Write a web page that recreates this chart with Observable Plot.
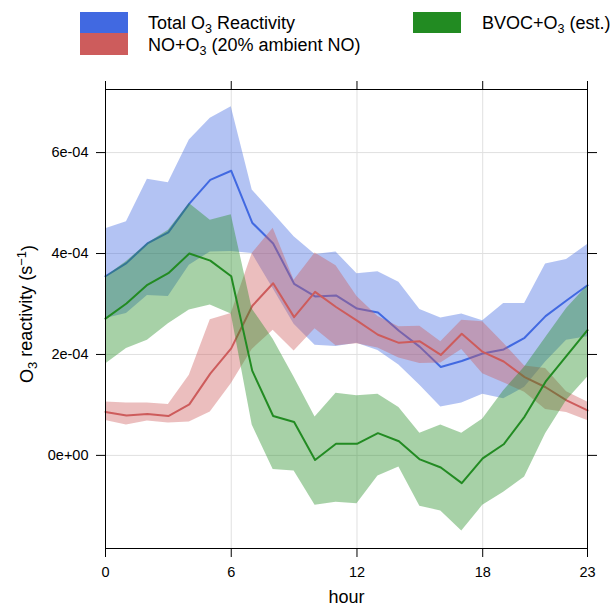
<!DOCTYPE html>
<html><head><meta charset="utf-8">
<script src="https://cdn.jsdelivr.net/npm/d3@7"></script>
<script src="https://cdn.jsdelivr.net/npm/@observablehq/plot@0.6"></script>
<style>
body{margin:0;background:#fff;font-family:"Liberation Sans",Arial,sans-serif;}
#legend{position:relative;width:613px;height:70px;}
.sw{position:absolute;width:48px;}
.lb{position:absolute;font-size:18px;line-height:21px;color:#000;white-space:nowrap;}
.lb sub{font-size:70%;vertical-align:-0.3em;line-height:0;}
</style></head><body>
<div id="legend">
  <div class="sw" style="left:80px;top:12px;height:21px;background:#4169E1"></div>
  <div class="sw" style="left:80px;top:33px;height:22px;background:#CD5C5C"></div>
  <div class="sw" style="left:413px;top:12px;height:21px;background:#228B22"></div>
  <div class="lb" style="left:148px;top:13px">Total O<sub>3</sub> Reactivity</div>
  <div class="lb" style="left:148px;top:35px">NO+O<sub>3</sub> (20% ambient NO)</div>
  <div class="lb" style="left:482px;top:13px">BVOC+O<sub>3</sub> (est.)</div>
</div>
<div id="chart"></div>
<script>
const hours = [0,1,2,3,4,5,6,7,8,9,10,11,12,13,14,15,16,17,18,19,20,21,22,23];

const totalMean  = [3.55e-4,3.81e-4,4.20e-4,4.42e-4,4.99e-4,5.46e-4,5.64e-4,4.61e-4,4.20e-4,3.40e-4,3.15e-4,3.17e-4,2.91e-4,2.83e-4,2.47e-4,2.15e-4,1.75e-4,1.87e-4,2.02e-4,2.10e-4,2.33e-4,2.76e-4,3.07e-4,3.37e-4];
const totalUpper = [4.49e-4,4.63e-4,5.47e-4,5.40e-4,6.25e-4,6.68e-4,6.91e-4,5.26e-4,4.80e-4,4.33e-4,3.98e-4,4.03e-4,3.60e-4,3.64e-4,3.43e-4,2.89e-4,2.72e-4,2.80e-4,2.67e-4,3.01e-4,3.01e-4,3.79e-4,3.88e-4,4.18e-4];
const totalLower = [2.71e-4,2.81e-4,3.17e-4,3.15e-4,3.77e-4,4.03e-4,4.04e-4,4.00e-4,3.30e-4,2.60e-4,2.18e-4,2.16e-4,2.22e-4,2.08e-4,1.79e-4,1.39e-4,0.96e-4,1.04e-4,1.21e-4,1.12e-4,1.35e-4,1.85e-4,2.28e-4,2.35e-4];

const noMean  = [0.86e-4,0.79e-4,0.82e-4,0.78e-4,1.01e-4,1.62e-4,2.12e-4,2.96e-4,3.41e-4,2.74e-4,3.24e-4,2.94e-4,2.67e-4,2.39e-4,2.23e-4,2.26e-4,1.99e-4,2.41e-4,2.05e-4,1.86e-4,1.55e-4,1.35e-4,1.09e-4,0.89e-4];
const noUpper = [1.06e-4,1.04e-4,1.04e-4,1.01e-4,1.59e-4,2.69e-4,2.81e-4,4.00e-4,4.50e-4,3.47e-4,4.01e-4,3.76e-4,3.15e-4,2.75e-4,2.55e-4,2.56e-4,2.25e-4,2.68e-4,2.65e-4,2.22e-4,1.77e-4,1.72e-4,1.26e-4,1.06e-4];
const noLower = [0.69e-4,0.60e-4,0.68e-4,0.64e-4,0.66e-4,0.86e-4,1.42e-4,2.10e-4,2.48e-4,2.07e-4,2.51e-4,2.17e-4,2.21e-4,2.13e-4,1.93e-4,1.82e-4,1.83e-4,2.10e-4,1.62e-4,1.44e-4,1.25e-4,0.91e-4,0.85e-4,0.69e-4];

const bvocMean  = [2.71e-4,3.01e-4,3.38e-4,3.61e-4,4.00e-4,3.86e-4,3.55e-4,1.68e-4,0.78e-4,0.66e-4,-0.09e-4,0.23e-4,0.23e-4,0.44e-4,0.28e-4,-0.08e-4,-0.24e-4,-0.55e-4,-0.06e-4,0.22e-4,0.77e-4,1.46e-4,1.97e-4,2.48e-4];
const bvocUpper = [3.54e-4,3.84e-4,4.20e-4,4.46e-4,4.99e-4,4.66e-4,4.77e-4,2.90e-4,2.30e-4,1.55e-4,0.76e-4,1.23e-4,1.18e-4,1.21e-4,0.95e-4,0.44e-4,0.60e-4,0.44e-4,0.72e-4,1.28e-4,1.75e-4,2.33e-4,2.91e-4,3.36e-4];
const bvocLower = [1.81e-4,2.12e-4,2.28e-4,2.61e-4,2.88e-4,2.98e-4,2.80e-4,0.60e-4,-0.28e-4,-0.31e-4,-0.99e-4,-0.93e-4,-0.96e-4,-0.41e-4,-0.23e-4,-1.01e-4,-1.10e-4,-1.50e-4,-0.99e-4,-0.73e-4,-0.43e-4,0.43e-4,1.09e-4,1.55e-4];

const xTicks = [0, 6, 12, 18, 23];
const xGrid = [6, 12, 18];
const yTicks = [0, 2e-4, 4e-4, 6e-4];
const yTickLabels = ["0e+00", "2e-04", "4e-04", "6e-04"];

const colTotal = "#4169E1", colNO = "#CD5C5C", colBVOC = "#228B22";
const bandOpacity = 0.4;

const plot = Plot.plot({
  width: 613,
  height: 540,
  marginTop: 19,
  marginBottom: 62,
  marginLeft: 105,
  marginRight: 26,
  style: {fontFamily: "'Liberation Sans', Arial, sans-serif", fontSize: "14px", color: "#000", background: "#fff"},
  x: {domain: [0, 23]},
  y: {domain: [-1.845e-4, 7.25e-4]},
  marks: [
    Plot.ruleX(xGrid, {x: d => d, stroke: "#e0e0e0", strokeWidth: 1}),
    Plot.ruleY(yTicks, {y: d => d, stroke: "#e0e0e0", strokeWidth: 1}),
    Plot.areaY(hours, {x: hours, y1: totalLower, y2: totalUpper, fill: colTotal, fillOpacity: bandOpacity}),
    Plot.lineY(hours, {x: hours, y: totalMean, stroke: colTotal, strokeWidth: 2}),
    Plot.areaY(hours, {x: hours, y1: noLower, y2: noUpper, fill: colNO, fillOpacity: bandOpacity}),
    Plot.lineY(hours, {x: hours, y: noMean, stroke: colNO, strokeWidth: 2}),
    Plot.areaY(hours, {x: hours, y1: bvocLower, y2: bvocUpper, fill: colBVOC, fillOpacity: bandOpacity}),
    Plot.lineY(hours, {x: hours, y: bvocMean, stroke: colBVOC, strokeWidth: 2}),
    Plot.frame({stroke: "#000", strokeWidth: 1}),
    Plot.axisX({anchor: "bottom", ticks: xTicks, tickSize: 9, tickPadding: 9, label: null, fontSize: 14.5}),
    Plot.axisX({anchor: "top", ticks: xTicks, tickSize: 9, tickFormat: () => "", label: null}),
    Plot.axisY({anchor: "left", ticks: yTicks, tickSize: 9, tickPadding: 8, label: null, fontSize: 14.5,
      tickFormat: d => yTickLabels[yTicks.indexOf(d)]}),
    Plot.axisY({anchor: "right", ticks: yTicks, tickSize: 9, tickFormat: () => "", label: null}),
    Plot.text(["hour"], {frameAnchor: "bottom", dy: 54, fontSize: 18}),
    Plot.text(["O3 reactivity (s-1)"], {frameAnchor: "left", textAnchor: "middle", dx: -78, dy: -5, rotate: -90, fontSize: 18})
  ]
});

document.getElementById("chart").appendChild(plot);

// Render the y-axis title with true subscript/superscript
d3.select(plot).selectAll("text")
  .filter(function() { return this.textContent === "O3 reactivity (s-1)"; })
  .each(function() {
    const t = d3.select(this);
    t.text(null);
    t.append("tspan").text("O");
    t.append("tspan").attr("font-size", 13).attr("dy", "0.3em").text("3");
    t.append("tspan").attr("dy", "-0.3em").text(" reactivity (s");
    t.append("tspan").attr("font-size", 13).attr("dy", "-0.45em").text("\u22121");
    t.append("tspan").attr("dy", "0.45em").text(")");
  });
</script>
</body></html>
